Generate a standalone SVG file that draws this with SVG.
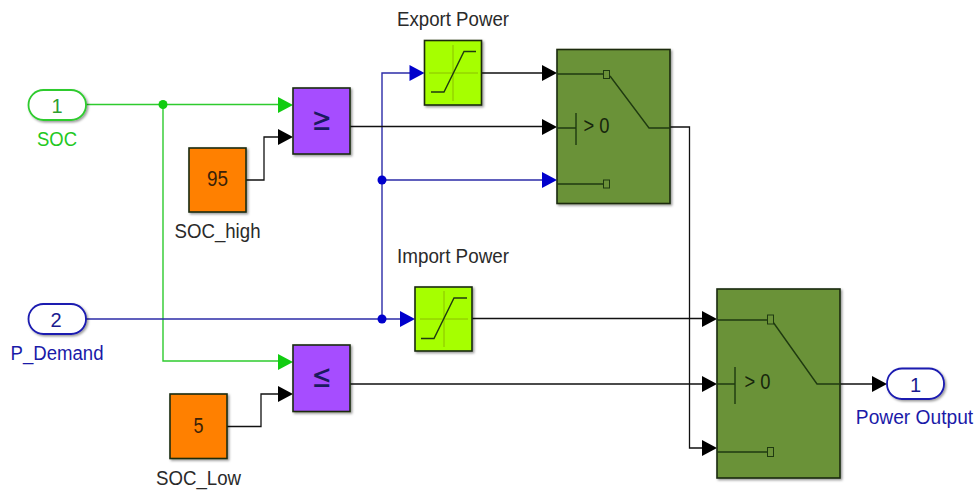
<svg xmlns="http://www.w3.org/2000/svg" width="975" height="491" viewBox="0 0 975 491">
<style>
text{font-family:"Liberation Sans",Arial,sans-serif;font-size:20px;fill:#2a2a2a;text-anchor:middle}
.blk{stroke:#1a2a10;stroke-width:1.6;filter:url(#sh)}
.sw{fill:#6b9239}.cmp{fill:#a64dff}.con{fill:#ff8000}.sat{fill:#a6ff00}
.port{fill:#fff;stroke-width:1.8;filter:url(#sh)}
.in{fill:none;stroke:#1f3a10;stroke-width:1.4}
.fine{fill:none;stroke:#8cc000;stroke-width:1}
.k{fill:none;stroke:#111;stroke-width:1.3}
.g{fill:none;stroke:#2ecb2e;stroke-width:1.4}
.b{fill:none;stroke:#2c2ca8;stroke-width:1.4}
.ak{fill:#000}.ag{fill:#11cc11}.ab{fill:#0000cc}
.sym{font-family:"DejaVu Sans",sans-serif;font-size:24px;fill:#1a1a60}
.num{font-size:22px;fill:#3a2208}
.gt{font-size:22px;fill:#16260c}
</style>
<defs>
<filter id="sh" x="-10%" y="-10%" width="125%" height="125%"><feDropShadow dx="1.5" dy="1.5" stdDeviation="1.2" flood-color="#000" flood-opacity="0.4"/></filter>
<path id="ah" d="M-15 -8L0 0L-15 8Z"/>
</defs>
<rect width="975" height="491" fill="#fff"/>
<g id="connectors">
<path class="g" d="M86 104.500H280M163 104.500V361H279"/>
<path class="b" d="M86 319H401M382 319V73H411M382 180H543"/>
<path class="k" d="M246 180H264V137H279M227 426.500H261V394H279M350 126.500H543M482 73H543M472 318.500H703M350 384H703M670 127H689.500V448H703M840 384H873"/>
<circle class="ag" cx="163" cy="104.500" r="4.500"/>
<circle class="ab" cx="382" cy="180" r="4.500"/>
<circle class="ab" cx="382" cy="319" r="4.500"/>
<use href="#ah" class="ag" x="293" y="105"/>
<use href="#ah" class="ak" x="293" y="137"/>
<use href="#ah" class="ag" x="293" y="362"/>
<use href="#ah" class="ak" x="293" y="394"/>
<use href="#ah" class="ab" x="424.500" y="73"/>
<use href="#ah" class="ab" x="415" y="319"/>
<use href="#ah" class="ak" x="557" y="73"/>
<use href="#ah" class="ak" x="557" y="127"/>
<use href="#ah" class="ab" x="557" y="180"/>
<use href="#ah" class="ak" x="717" y="319"/>
<use href="#ah" class="ak" x="717" y="384"/>
<use href="#ah" class="ak" x="717" y="448"/>
<use href="#ah" class="ak" x="887" y="384"/>
</g>
<g id="in1">
<rect class="port" x="28.500" y="90" width="57.500" height="30" rx="15" stroke="#2ecb2e"/>
<text x="57" y="112.500" style="fill:#2fa02f">1</text>
<text x="57" y="146" textLength="40" lengthAdjust="spacingAndGlyphs" style="fill:#22c822">SOC</text>
</g>
<g id="in2">
<rect class="port" x="28.500" y="304" width="57.500" height="30" rx="15" stroke="#1a1ab0"/>
<text x="56" y="326.500" style="fill:#1a1a90">2</text>
<text x="57" y="360" textLength="93" lengthAdjust="spacingAndGlyphs" style="fill:#1a1aa8">P_Demand</text>
</g>
<g id="soc-high">
<rect class="blk con" x="189" y="148" width="57" height="64"/>
<text class="num" x="217.500" y="186" textLength="21" lengthAdjust="spacingAndGlyphs">95</text>
<text x="217.500" y="238" textLength="86" lengthAdjust="spacingAndGlyphs">SOC_high</text>
</g>
<g id="soc-low">
<rect class="blk con" x="170" y="394" width="57" height="64.500"/>
<text class="num" x="198.500" y="433" textLength="10" lengthAdjust="spacingAndGlyphs">5</text>
<text x="198.500" y="485" textLength="85" lengthAdjust="spacingAndGlyphs">SOC_Low</text>
</g>
<g id="cmp-ge">
<rect class="blk cmp" x="293" y="88" width="57" height="66"/>
<text class="sym" transform="translate(321.500 130) scale(1 1.35)">≥</text>
</g>
<g id="cmp-le">
<rect class="blk cmp" x="293" y="345" width="57" height="66.500"/>
<text class="sym" transform="translate(321.500 386.500) scale(1 1.35)">≤</text>
</g>
<g id="export-power">
<rect class="blk sat" x="424.500" y="40.500" width="57" height="64.500"/>
<path class="fine" d="M453 45V101M429 73H478"/>
<path class="in" d="M431 92H444L464 51.500H476"/>
<text x="453" y="25.500" textLength="112" lengthAdjust="spacingAndGlyphs">Export Power</text>
</g>
<g id="import-power">
<rect class="blk sat" x="415" y="287" width="57" height="64"/>
<path class="fine" d="M444 291V347M420 319H468"/>
<path class="in" d="M421 338.500H434L454 298H467"/>
<text x="453" y="262.500" textLength="112" lengthAdjust="spacingAndGlyphs">Import Power</text>
</g>
<g id="switch-1">
<rect class="blk sw" x="557" y="49.500" width="113" height="154"/>
<path class="in" d="M557 74H603M557 128H576M576 113V145M557 184H603M610 76L649 128H670"/>
<rect x="603.500" y="70.500" width="6" height="8" fill="#6b9239" stroke="#1f3a10"/>
<rect x="603.500" y="180" width="6" height="8" fill="#6b9239" stroke="#1f3a10"/>
<text class="gt" x="596.500" y="133" textLength="26" lengthAdjust="spacingAndGlyphs">&gt; 0</text>
</g>
<g id="switch-2">
<rect class="blk sw" x="717" y="289" width="123" height="189"/>
<path class="in" d="M717 320H767M717 384H735M735 367V404M717 452H767M773 322L817 384H840"/>
<rect x="767.500" y="315" width="6" height="9" fill="#6b9239" stroke="#1f3a10"/>
<rect x="767.500" y="447.500" width="6" height="9" fill="#6b9239" stroke="#1f3a10"/>
<text class="gt" x="757.500" y="389" textLength="26" lengthAdjust="spacingAndGlyphs">&gt; 0</text>
</g>
<g id="out1">
<rect class="port" x="887" y="368.500" width="57" height="30.500" rx="15" stroke="#1a1ab0"/>
<text x="915.500" y="391.500" style="fill:#1a1a90">1</text>
<text transform="translate(914.500 424) scale(0.96 1)" style="fill:#1a1aa8">Power Output</text>
</g>
</svg>
